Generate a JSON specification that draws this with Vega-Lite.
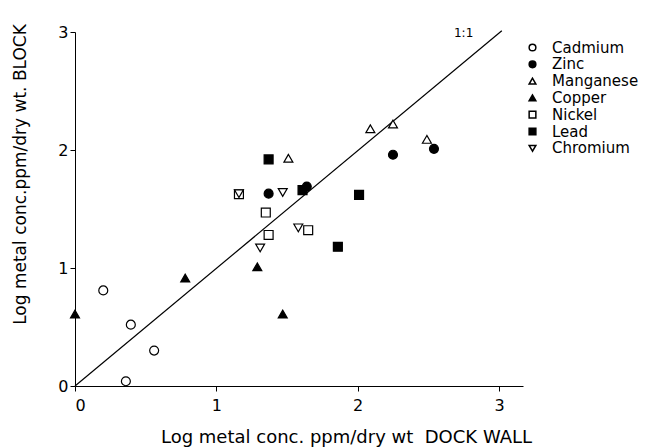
{
  "$schema": "https://vega.github.io/schema/vega-lite/v6.json",
  "autosize": "none",
  "width": 448,
  "height": 354,
  "padding": {"left": 75, "top": 32, "right": 133, "bottom": 62},
  "background": "white",
  "config": {
    "font": "DejaVu Sans",
    "view": {"stroke": null},
    "axis": {
      "grid": false,
      "domainColor": "black",
      "tickColor": "black",
      "labelColor": "black",
      "titleColor": "black",
      "labelFontSize": 16,
      "titleFontSize": 17,
      "titleFontWeight": "normal",
      "tickSize": 5,
      "format": "d"
    }
  },
  "datasets": {
    "pts": [
      {"metal": "Cadmium", "dock": 0.20, "block": 0.81},
      {"metal": "Cadmium", "dock": 0.395, "block": 0.52},
      {"metal": "Cadmium", "dock": 0.56, "block": 0.30},
      {"metal": "Cadmium", "dock": 0.36, "block": 0.04},
      {"metal": "Zinc", "dock": 1.37, "block": 1.63},
      {"metal": "Zinc", "dock": 1.64, "block": 1.69},
      {"metal": "Zinc", "dock": 2.25, "block": 1.96},
      {"metal": "Zinc", "dock": 2.54, "block": 2.01},
      {"metal": "Manganese", "dock": 1.51, "block": 1.93},
      {"metal": "Manganese", "dock": 2.09, "block": 2.18},
      {"metal": "Manganese", "dock": 2.25, "block": 2.22},
      {"metal": "Manganese", "dock": 2.49, "block": 2.09},
      {"metal": "Copper", "dock": 0.0, "block": 0.61},
      {"metal": "Copper", "dock": 0.78, "block": 0.915},
      {"metal": "Copper", "dock": 1.29, "block": 1.01},
      {"metal": "Copper", "dock": 1.47, "block": 0.61},
      {"metal": "Nickel", "dock": 1.16, "block": 1.625},
      {"metal": "Nickel", "dock": 1.35, "block": 1.47},
      {"metal": "Nickel", "dock": 1.37, "block": 1.28},
      {"metal": "Nickel", "dock": 1.65, "block": 1.32},
      {"metal": "Lead", "dock": 1.37, "block": 1.92},
      {"metal": "Lead", "dock": 1.61, "block": 1.66},
      {"metal": "Lead", "dock": 2.01, "block": 1.62},
      {"metal": "Lead", "dock": 1.86, "block": 1.18},
      {"metal": "Chromium", "dock": 1.16, "block": 1.63},
      {"metal": "Chromium", "dock": 1.47, "block": 1.64},
      {"metal": "Chromium", "dock": 1.31, "block": 1.17},
      {"metal": "Chromium", "dock": 1.58, "block": 1.34}
    ],
    "oneone": [
      {"dock": 0, "block": 0},
      {"dock": 3.02, "block": 3.01}
    ],
    "lbl": [
      {"dock": 2.75, "block": 2.99, "text": "1:1"}
    ]
  },
  "layer": [
    {
      "data": {"name": "oneone"},
      "mark": {"type": "line", "color": "black", "strokeWidth": 1.2},
      "encoding": {
        "x": {"field": "dock", "type": "quantitative", "scale": {"domain": [0, 3.17], "nice": false},
              "axis": {"values": [0, 1, 2, 3], "title": "Log metal conc. ppm/dry wt\u00a0 DOCK WALL", "labelPadding": 6,
                       "titleFontSize": 18,
                       "titleX": 271, "titleY": 56, "titleBaseline": "alphabetic", "titleAnchor": "middle"}},
        "y": {"field": "block", "type": "quantitative", "scale": {"domain": [0, 3], "nice": false},
              "axis": {"values": [0, 1, 2, 3], "title": "Log metal conc.ppm/dry wt. BLOCK", "labelPadding": 2,
                       "titleX": -50, "titleY": 142, "titleBaseline": "alphabetic", "titleAnchor": "middle"}}
      }
    },
    {
      "data": {"name": "lbl"},
      "mark": {"type": "text", "fontSize": 12, "color": "black", "align": "center", "baseline": "middle"},
      "encoding": {
        "x": {"field": "dock", "type": "quantitative"},
        "y": {"field": "block", "type": "quantitative"},
        "text": {"field": "text"}
      }
    },
    {
      "data": {"name": "pts"},
      "mark": {"type": "point", "filled": true, "stroke": "black", "strokeWidth": 1.2, "size": 80, "opacity": 1},
      "encoding": {
        "x": {"field": "dock", "type": "quantitative"},
        "y": {"field": "block", "type": "quantitative"},
        "shape": {"field": "metal", "type": "nominal",
                  "scale": {"domain": ["Cadmium", "Zinc", "Manganese", "Copper", "Nickel", "Lead", "Chromium"],
                            "range": ["circle", "circle", "triangle-up", "triangle-up", "square", "square", "triangle-down"]},
                  "legend": {"title": null, "orient": "none", "legendX": 450, "legendY": 8,
                             "labelFontSize": 15, "labelColor": "black", "symbolSize": 45,
                             "labelOffset": 12, "rowPadding": 0.8, "padding": 0,
                             "encode": {"symbols": {"update": {"stroke": {"value": "black"}, "strokeWidth": {"value": 1.2}}}}}},
        "fill": {"field": "metal", "type": "nominal",
                 "scale": {"domain": ["Cadmium", "Zinc", "Manganese", "Copper", "Nickel", "Lead", "Chromium"],
                           "range": ["white", "black", "white", "black", "white", "black", "white"]},
                 "legend": {"title": null, "orient": "none", "legendX": 450, "legendY": 8,
                            "labelFontSize": 15, "labelColor": "black", "symbolSize": 45,
                            "labelOffset": 12, "rowPadding": 0.8, "padding": 0,
                            "encode": {"symbols": {"update": {"stroke": {"value": "black"}, "strokeWidth": {"value": 1.2}}}}}}
      }
    }
  ]
}
